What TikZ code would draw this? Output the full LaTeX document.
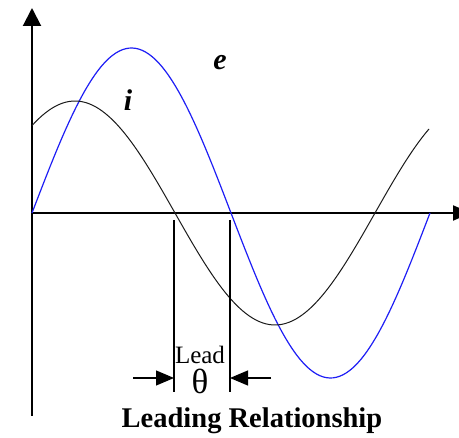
\documentclass[tikz,border=0pt]{standalone}
\usepackage{fontspec}
\setmainfont{Liberation Serif}
\usetikzlibrary{arrows.meta,positioning}
\definecolor{wavevolt}{HTML}{1E1EF5}
\definecolor{wavecurr}{HTML}{1A1A1A}
\tikzstyle{axis} = [line width=2pt, black, -{Triangle[length=18pt, width=18pt]}]
\tikzstyle{wave} = [line width=1.2pt, smooth]
\tikzstyle{marker} = [line width=1.2pt, black]
\tikzstyle{leadarrow} = [line width=1.2pt, black, -{Triangle[length=18pt, width=15pt]}]
\tikzstyle{wavelabel} = [inner sep=0pt, font=\fontsize{30}{30}\selectfont\bfseries\itshape]

\begin{document}
\begin{tikzpicture}[x=1pt, y=-1pt]
\clip (0,0) rectangle (459,438);
% axes
\coordinate (o) at (32,213);
\coordinate (ybot) at (32,416);
\coordinate (ytop) at (32,8);
\coordinate (xend) at (471,213);
\draw[axis] (ybot) -- (ytop);
\draw[axis, -{Triangle[length=18pt, width=15pt]}] (o) -- (xend);

% waves
\draw[wave, wavevolt] plot[domain=32:430, samples=120] (\x, {213 - 165*sin((\x-32)/199*180)});
\draw[wave, wavecurr, line width=1pt] plot[domain=32:429, samples=120] (\x, {213 + 112*sin((\x-175)/200*180)});
\node[wavelabel] (lblE) at (220,63) {e};
\node[wavelabel] (lblI) at (128,100) {i};

% lead markers
\coordinate (iTop) at (174,220);
\coordinate (iBot) at (174,392);
\coordinate (eTop) at (230,220);
\coordinate (eBot) at (230,392);
\draw[marker] (iTop) -- (iBot);
\draw[marker] (eTop) -- (eBot);
\coordinate (leftTail) at (133,378);
\coordinate (leftTip) at (174,378);
\coordinate (rightTail) at (271,378);
\coordinate (rightTip) at (230,378);
\draw[leadarrow] (leftTail) -- (leftTip);
\draw[leadarrow] (rightTail) -- (rightTip);
\node[inner sep=0pt, font=\fontsize{25}{25}\selectfont] (lead) at (200,355) {Lead};
\node[inner sep=0pt, font=\fontsize{35}{35}\selectfont, below=5pt of lead] (theta) {θ};
\node[inner sep=0pt, font=\fontsize{28.5}{28.5}\selectfont\bfseries] (title) at (252,421) {Leading Relationship};
\end{tikzpicture}
\end{document}
